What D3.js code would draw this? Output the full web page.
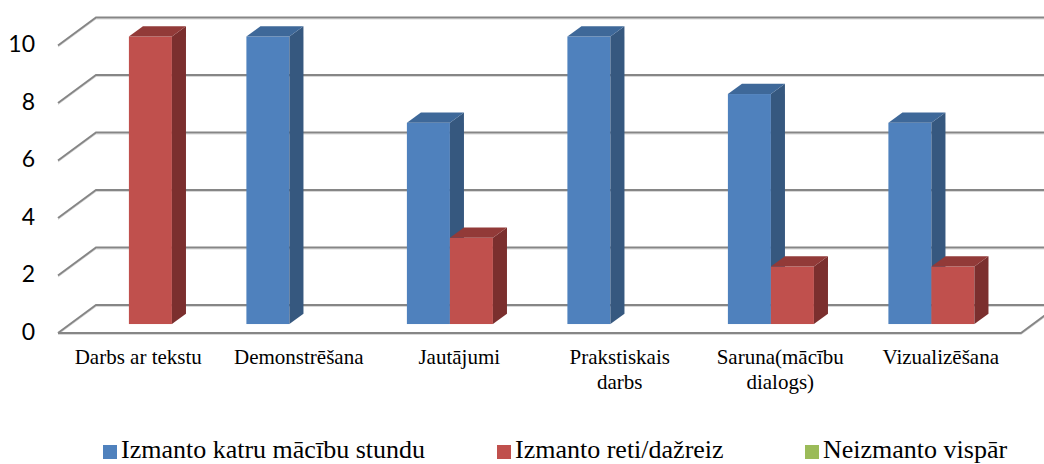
<!DOCTYPE html>
<html>
<head>
<meta charset="UTF-8">
<title>Mācību metodes</title>
<script src="https://d3js.org/d3.v7.min.js"></script>
<style>
  body { margin: 0; background: #fff; }
  svg { display: block; }
</style>
</head>
<body>
<svg width="1044" height="464"></svg>
<script>
// data
const categories = ["Darbs ar tekstu", "Demonstrēšana", "Jautājumi", "Prakstiskais darbs", "Saruna(mācību dialogs)", "Vizualizēšana"];
const seriesNames = ["Izmanto katru mācību stundu", "Izmanto reti/dažreiz", "Neizmanto vispār"];
const katruStundu = [0, 10, 7, 10, 8, 7];
const retiDazreiz = [10, 0, 3, 0, 2, 2];
const neizmanto = [0, 0, 0, 0, 0, 0];
const yTicks = [0, 2, 4, 6, 8, 10];

const seriesValues = [katruStundu, retiDazreiz, neizmanto];
const colors = [
  { front: "#4f81bd", side: "#36587f", top: "#3e6899" },
  { front: "#c0504d", side: "#7b2f2e", top: "#923a38" },
  { front: "#9bbb59", side: "#667c3a", top: "#7d9745" }
];
const serifFont = "Liberation Serif";
const sansFont = "Lato";

const svg = d3.select("svg");

// floor / wall geometry (oblique projection)
const left = 58, right = 1021;
const wallDx = 38, wallDy = -28;
const barShift = 0.32;          // bars sit this far back from the front edge
const barDepth = 0.37;          // depth of each bar as fraction of the floor

const y = d3.scaleLinear().domain([0, 10]).range([333, 45.5]);
const x = d3.scaleBand().domain(categories).range([left, right]).paddingInner(0).paddingOuter(0);
const xs = d3.scaleBand().domain(seriesNames).range([0, x.bandwidth()]).paddingInner(0).paddingOuter(0.366);

const grid = svg.append("g");
yTicks.forEach(t => {
  const yf = y(t);
  grid.append("path")
    .attr("d", `M${left},${yf + 1.5}L${left + wallDx},${yf + wallDy + 1.5}L${right + wallDx + 20},${yf + wallDy + 1.5}`)
    .attr("fill", "none").attr("stroke", "#d9d9d9").attr("stroke-width", 1);
  grid.append("path")
    .attr("d", `M${left},${yf}L${left + wallDx},${yf + wallDy}L${right + wallDx + 20},${yf + wallDy}`)
    .attr("fill", "none").attr("stroke", "#868686").attr("stroke-width", 2);
});

// floor front edge
grid.append("path")
  .attr("d", `M${left},${y(0) + 1.5}L${right},${y(0) + 1.5}L${right + wallDx},${y(0) + wallDy + 1.5}`)
  .attr("fill", "none").attr("stroke", "#d9d9d9").attr("stroke-width", 1);
grid.append("path")
  .attr("d", `M${left},${y(0)}L${right},${y(0)}L${right + wallDx},${y(0) + wallDy}`)
  .attr("fill", "none").attr("stroke", "#868686").attr("stroke-width", 2);

// y tick labels
svg.append("g").selectAll("text")
  .data(yTicks)
  .enter().append("text")
  .attr("font-family", sansFont)
  .attr("font-size", 23)
  .attr("x", 35)
  .attr("y", d => y(d) + 1)
  .attr("text-anchor", "end")
  .attr("dominant-baseline", "middle")
  .text(d => d);

// bars, drawn left to right so the right ones cover the sides of the left ones
const bars = [];
categories.forEach((c, ci) => {
  seriesNames.forEach((s, si) => {
    const v = seriesValues[si][ci];
    if (v > 0) bars.push({ c, s, si, v });
  });
});

const sx = wallDx * barShift, sy = wallDy * barShift;
const dx = wallDx * barDepth, dy = wallDy * barDepth;
const barG = svg.append("g");
bars.forEach(b => {
  const x0 = x(b.c) + xs(b.s) + sx;
  const w = xs.bandwidth();
  const yb = y(0) + sy, yt = y(b.v) + sy;
  const col = colors[b.si];
  const g = barG.append("g");
  g.append("rect")
    .attr("x", x0).attr("y", yt).attr("width", w).attr("height", yb - yt)
    .attr("fill", col.front);
  g.append("polygon")
    .attr("points", [[x0 + w, yb], [x0 + w + dx, yb + dy], [x0 + w + dx, yt + dy], [x0 + w, yt]].join(" "))
    .attr("fill", col.side);
  g.append("polygon")
    .attr("points", [[x0, yt], [x0 + dx, yt + dy], [x0 + w + dx, yt + dy], [x0 + w, yt]].join(" "))
    .attr("fill", col.top);
});

// category labels with simple wrapping
const catG = svg.append("g");
categories.forEach(c => {
  const cx = x(c) + x.bandwidth() / 2;
  const t = catG.append("text")
    .attr("font-family", serifFont)
    .attr("font-size", 21)
    .attr("text-anchor", "middle")
    .attr("x", cx)
    .attr("y", 364);
  const words = c.split(" ");
  let line = [];
  let ts = t.append("tspan").attr("x", cx).attr("dy", 0);
  words.forEach(wd => {
    line.push(wd);
    ts.text(line.join(" "));
    if (ts.node().getComputedTextLength() > 150 && line.length > 1) {
      line.pop();
      ts.text(line.join(" "));
      line = [wd];
      ts = t.append("tspan").attr("x", cx).attr("dy", 25).text(wd);
    }
  });
});

// legend
const legX = [103, 497, 805];
const leg = svg.append("g");
seriesNames.forEach((s, i) => {
  leg.append("rect")
    .attr("x", legX[i]).attr("y", 445).attr("width", 14).attr("height", 14)
    .attr("fill", colors[i].front);
  leg.append("text")
    .attr("font-family", serifFont)
    .attr("font-size", 26)
    .attr("x", legX[i] + 18).attr("y", 458)
    .text(s);
});
</script>
</body>
</html>
